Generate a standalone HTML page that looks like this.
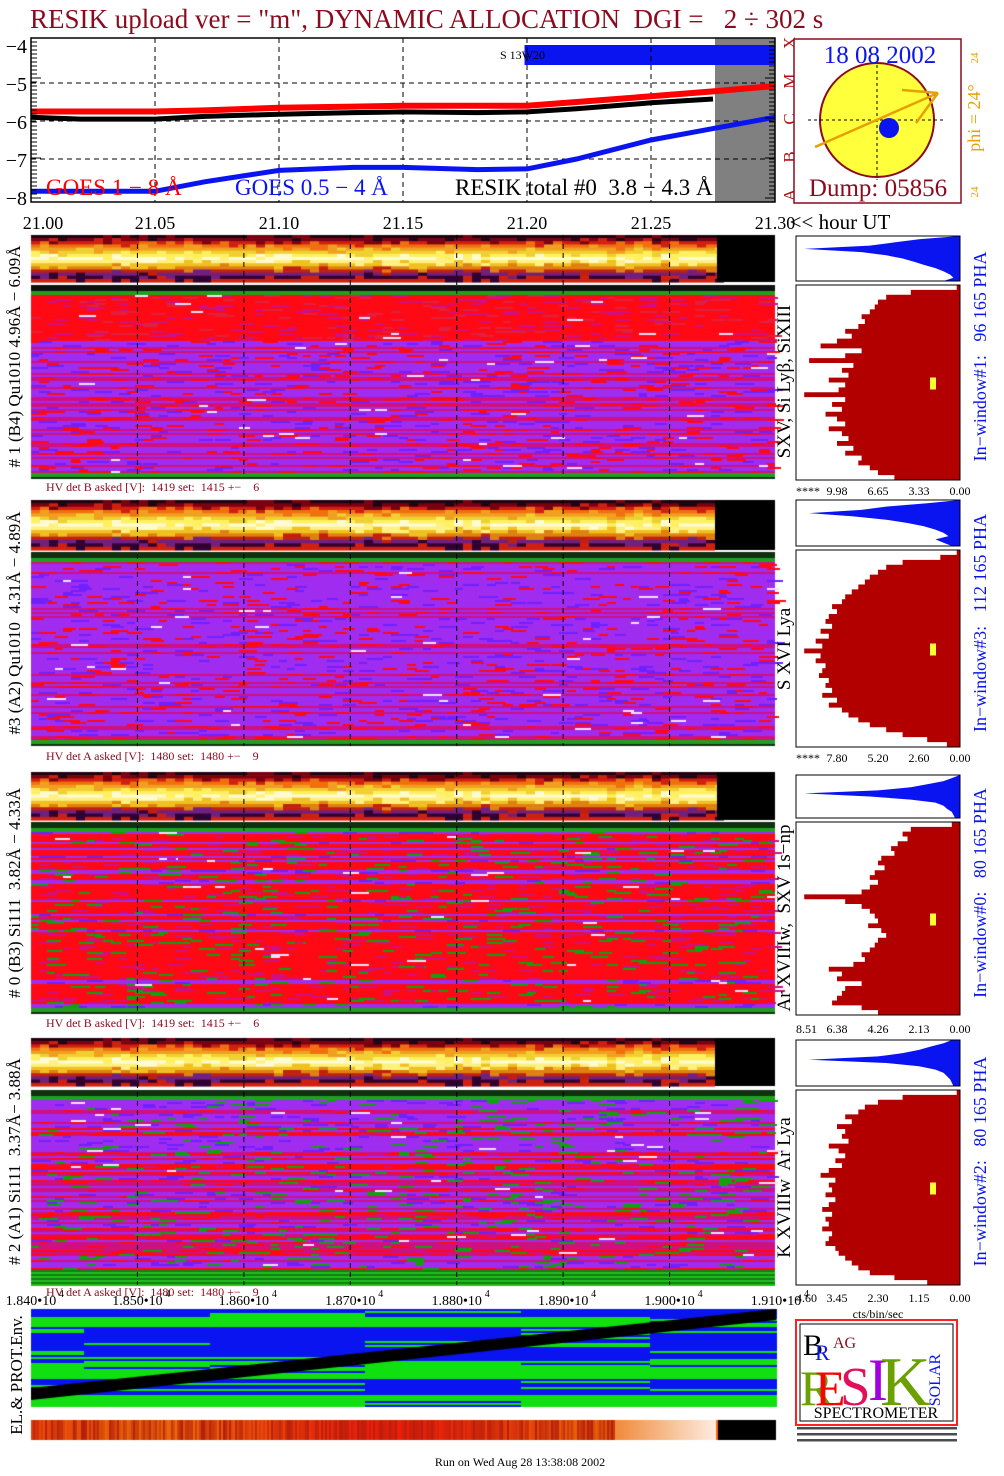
<!DOCTYPE html>
<html><head><meta charset="utf-8">
<style>
html,body{margin:0;padding:0;background:#fff;}
#wrap{position:relative;width:1004px;height:1476px;overflow:hidden;font-family:"Liberation Serif",serif;}
canvas{position:absolute;left:0;top:0;}
svg{position:absolute;left:0;top:0;}
svg text{white-space:pre;}
</style></head>
<body>
<div id="wrap">
<canvas id="tex" width="1004" height="1476"></canvas>
<svg id="s" width="1004" height="1476" xmlns="http://www.w3.org/2000/svg" font-family="Liberation Serif, serif">
  <text x="30" y="28" font-size="27" fill="#8b0a1e" xml:space="preserve">RESIK upload ver = "m", DYNAMIC ALLOCATION  DGI =   2 ÷ 302 s</text>
</svg>
</div>
<script>
// ---------- top light-curve data ----------
const lcTimes   = [21.00,21.02,21.05,21.07,21.10,21.13,21.15,21.18,21.20,21.22,21.25,21.275,21.30];
const goesLong  = [-5.75,-5.75,-5.75,-5.72,-5.65,-5.62,-5.6,-5.6,-5.6,-5.5,-5.35,-5.22,-5.08];
const resikTot  = [-5.9,-5.95,-5.95,-5.88,-5.82,-5.78,-5.76,-5.78,-5.76,-5.68,-5.52,-5.42,null];
const goesShort = [-7.85,-7.85,-7.85,-7.6,-7.3,-7.22,-7.22,-7.28,-7.26,-7.0,-6.5,-6.2,-5.9];
const yTicks = [-4,-5,-6,-7,-8];
const xTickLabels = ["21.00","21.05","21.10","21.15","21.20","21.25","21.30"];
const xTickVals = [21.00,21.05,21.10,21.15,21.20,21.25,21.30];
const bottomTickVals = [18400,18500,18600,18700,18800,18900,19000,19100];
const bottomTickLabels = ["1.840","1.850","1.860","1.870","1.880","1.890","1.900","1.910"];
// histogram profiles (fraction of full scale, top→bottom)
const histLarge0=[0.02,0.3,0.45,0.5,0.52,0.55,0.6,0.58,0.62,0.7,0.66,0.75,0.85,0.6,0.7,0.92,0.65,0.72,0.68,0.8,0.7,0.74,0.95,0.7,0.78,0.72,0.82,0.75,0.7,0.8,0.72,0.68,0.75,0.65,0.7,0.6,0.62,0.55,0.5,0.4];
const histLarge1=[0.02,0.12,0.35,0.45,0.5,0.55,0.58,0.62,0.66,0.7,0.72,0.78,0.75,0.8,0.82,0.78,0.85,0.8,0.88,0.84,0.95,0.85,0.88,0.82,0.84,0.86,0.8,0.82,0.78,0.84,0.75,0.8,0.72,0.68,0.62,0.55,0.45,0.35,0.2,0.08];
const histLarge2=[0.05,0.3,0.35,0.32,0.38,0.42,0.4,0.48,0.5,0.46,0.52,0.55,0.5,0.55,0.6,0.95,0.7,0.6,0.55,0.52,0.5,0.56,0.48,0.45,0.5,0.52,0.55,0.6,0.58,0.65,0.8,0.72,0.75,0.6,0.7,0.72,0.75,0.78,0.6,0.5];
const histLarge3=[0.02,0.35,0.5,0.58,0.62,0.7,0.66,0.75,0.7,0.72,0.68,0.8,0.74,0.7,0.76,0.72,0.8,0.85,0.76,0.8,0.78,0.82,0.76,0.8,0.84,0.78,0.82,0.8,0.84,0.78,0.8,0.82,0.76,0.74,0.7,0.66,0.62,0.55,0.4,0.2];
const histSmall0=[0.0,0.25,0.4,0.55,0.95,0.6,0.45,0.35,0.28,0.22,0.15,0.1,0.06,0.04,0.1];
const histSmall1=[0.0,0.2,0.45,0.6,0.92,0.65,0.45,0.32,0.22,0.15,0.1,0.07,0.15,0.1,0.05];
const histSmall2=[0.0,0.05,0.1,0.2,0.3,0.5,0.95,0.55,0.3,0.15,0.1,0.08,0.05,0.04,0.03];
const histSmall3=[0.05,0.1,0.18,0.25,0.35,0.5,0.92,0.45,0.25,0.15,0.1,0.08,0.06,0.05,0.04];

const NS="http://www.w3.org/2000/svg";
const svg=document.getElementById('s');
function el(tag,attrs,parent){const e=document.createElementNS(NS,tag);for(const k in attrs)e.setAttribute(k,attrs[k]);(parent||svg).appendChild(e);return e;}
function txt(x,y,s,size,fill,extra){const t=el('text',Object.assign({x:x,y:y,'font-size':size,fill:fill||'#000','xml:space':'preserve'},extra||{}));t.textContent=s;return t;}

const PL=31,PR=775,PT=38,PB=202;
const xS=t=>PL+(t-21.0)/0.30*(PR-PL);
const yS=v=>45+(-4-v)*38;

const tp=el('g',{});


el('rect',{x:715,y:PT,width:PR-715,height:PB-PT,fill:'#808080'},tp);
el('rect',{x:xS(21.199),y:45,width:PR-xS(21.199),height:20,fill:'#0a14f0'},tp);
txt(500,59,"S 13W20",12,'#000');
xTickVals.slice(1,6).forEach(v=>el('line',{x1:xS(v),x2:xS(v),y1:PT,y2:PB,stroke:'#000','stroke-dasharray':'5,4','stroke-width':1},tp));
[-5,-6,-7].forEach(v=>el('line',{x1:PL,x2:PR,y1:yS(v),y2:yS(v),stroke:'#000','stroke-dasharray':'5,4','stroke-width':1},tp));
function series(vals,color,w,name){
  let d='';vals.forEach((v,i)=>{if(v===null)return;d+=(d?'L':'M')+xS(lcTimes[i]).toFixed(1)+','+yS(v).toFixed(1);});
  const p=el('path',{d:d,fill:'none',stroke:color,'stroke-width':w},tp);
  
}
series(goesLong,'#ff0000',6,'goes-1-8-line');
series(resikTot,'#000',5,'resik-total-line');
series(goesShort,'#0a14f0',5,'goes-05-4-line');
el('rect',{x:PL,y:PT,width:PR-PL,height:PB-PT,fill:'none',stroke:'#000','stroke-width':1.5},tp);
yTicks.forEach(v=>{txt(27,yS(v)+8,'−'+Math.abs(v),20,'#000',{'text-anchor':'end'});});
for(let i=0;i<=40;i++){const y=PT+i*4;el('line',{x1:PL,x2:PL+(i%10==0?10:6),y1:y,y2:y,stroke:'#000'},tp);el('line',{x1:PR,x2:PR-(i%10==0?10:6),y1:y,y2:y,stroke:'#000'},tp);}
xTickVals.forEach((v,i)=>{txt(xS(v)+(i==0?12:0),229,xTickLabels[i],18,'#000',{'text-anchor':'middle'});});
txt(840,229,"<< hour UT",21,'#000',{'text-anchor':'middle'});
txt(46,195,"GOES 1 − 8 Å",23,'#ff0000');
txt(235,195,"GOES 0.5 − 4 Å",23,'#0a14f0');
txt(455,195,"RESIK total #0  3.8 − 4.3 Å",23,'#000');
['X','M','C','B','A'].forEach((c,i)=>txt(790,48+i*38,c,17,'#b01010',{transform:`rotate(-90 790 ${43+i*38})`,'text-anchor':'middle'}));

const sp=el('g',{});


el('rect',{x:794,y:39,width:167,height:164,fill:'#fff',stroke:'#8b0a1e','stroke-width':1.5},sp);
el('circle',{cx:877,cy:120,r:57,fill:'#ffff3c',stroke:'#8b0a1e','stroke-width':2},sp);
el('line',{x1:877,x2:877,y1:65,y2:180,stroke:'#000','stroke-dasharray':'3,3'},sp);
el('line',{x1:808,x2:943,y1:120,y2:120,stroke:'#000','stroke-dasharray':'3,3'},sp);
el('line',{x1:815,y1:147,x2:938,y2:93,stroke:'#e8a000','stroke-width':2.5},sp);
el('line',{x1:902,y1:90,x2:938,y2:93,stroke:'#e8a000','stroke-width':2.5},sp);
el('line',{x1:916,y1:123,x2:938,y2:93,stroke:'#e8a000','stroke-width':2.5},sp);
el('circle',{cx:889,cy:128,r:10,fill:'#0a14f0'},sp);
txt(880,63,"18 08 2002",25,'#0a14f0',{'text-anchor':'middle'});
txt(878,196,"Dump: 05856",25,'#8b0a1e',{'text-anchor':'middle'});
txt(980,118,"phi = 24°",18,'#e8a000',{transform:'rotate(-90 980 118)','text-anchor':'middle'});
txt(978,58,"24",11,'#e8a000',{transform:'rotate(-90 978 58)','text-anchor':'middle'});
txt(978,192,"24",11,'#e8a000',{transform:'rotate(-90 978 192)','text-anchor':'middle'});

const histLarge=[histLarge0,histLarge1,histLarge2,histLarge3];
const histSmall=[histSmall0,histSmall1,histSmall2,histSmall3];
const panels=[
 {strip:[235,282],main:[285,478],hv:"HV det B asked [V]:  1419 set:  1415 +−    6",hvY:491,
  left:"# 1 (B4) Qu1010 4.96Å − 6.09Å",lines:"SXV, Si Lyβ, SiXIII",win:"In−window#1:   96 165 PHA",
  hs:[236,281],hl:[285,480],ax:["****","9.98","6.65","3.33","0.00"],axY:495,scheme:0,black:717},
 {strip:[500,550],main:[552,746],hv:"HV det A asked [V]:  1480 set:  1480 +−    9",hvY:760,
  left:"#3 (A2) Qu1010  4.31Å − 4.89Å",lines:"S XVI Lya",win:"In−window#3:   112 165 PHA",
  hs:[500,546],hl:[550,747],ax:["****","7.80","5.20","2.60","0.00"],axY:762,scheme:1,black:715},
 {strip:[772,820],main:[822,1014],hv:"HV det B asked [V]:  1419 set:  1415 +−    6",hvY:1027,
  left:"# 0 (B3) Si111  3.82Å − 4.33Å",lines:"Ar XVIIIw,  SXV 1s−np",win:"In−window#0:   80 165 PHA",
  hs:[775,818],hl:[822,1015],ax:["8.51","6.38","4.26","2.13","0.00"],axY:1033,scheme:2,black:717},
 {strip:[1038,1086],main:[1090,1285],hv:"HV det A asked [V]:  1480 set:  1480 +−    9",hvY:1296,
  left:"# 2 (A1) Si111  3.37Å− 3.88Å",lines:"K XVIIIw  Ar Lya",win:"In−window#2:   80 165 PHA",
  hs:[1040,1086],hl:[1090,1285],ax:["4.60","3.45","2.30","1.15","0.00"],axY:1302,scheme:3,black:715}
];

const HX0=796,HX1=960;
panels.forEach((p,pi)=>{
  const g=el('g',{});
  
  
  txt(46,p.hvY,p.hv,12,'#8b0a1e');
  const lx=20,ly=(p.strip[0]+p.main[1])/2;
  txt(lx,ly,p.left,17,'#000',{transform:`rotate(-90 ${lx} ${ly})`,'text-anchor':'middle'});
  const rx=790,ry=(p.main[0]+p.main[1])/2;
  txt(rx,ry,p.lines,19,'#000',{transform:`rotate(-90 ${rx} ${ry})`,'text-anchor':'middle'});
  const wx=986,wy=(p.strip[0]+p.main[1])/2;
  txt(wx,wy,p.win,18,'#0a14f0',{transform:`rotate(-90 ${wx} ${wy})`,'text-anchor':'middle'});
  bottomTickVals.slice(1,7).forEach(v=>{const x=31+(v-18400)/700*745;
    el('line',{x1:x,x2:x,y1:p.strip[0],y2:p.main[1],stroke:'#000','stroke-dasharray':'5,4'},g);});
  let hs=histSmall[pi],h0=p.hs[0],h1=p.hs[1];
  let d=`M${HX1},${h0}`;hs.forEach((v,i)=>{const y=h0+(h1-h0)*i/(hs.length-1);d+=`L${HX1-v*(HX1-HX0)},${y}`;});d+=`L${HX1},${h1}Z`;
  const sh=el('path',{d:d,fill:'#0a14f0'},g);
  
  el('rect',{x:HX0,y:h0,width:HX1-HX0,height:h1-h0,fill:'none',stroke:'#000'},g);
  let hl=histLarge[pi];h0=p.hl[0];h1=p.hl[1];
  const step=(h1-h0)/hl.length;
  d=`M${HX1},${h0}`;hl.forEach((v,i)=>{const x=HX1-v*(HX1-HX0);const y=h0+step*i;d+=`L${x},${y}L${x},${y+step}`;});d+=`L${HX1},${h1}Z`;
  const lh=el('path',{d:d,fill:'#b20000'},g);
  
  el('rect',{x:930,y:(h0+h1)/2-5,width:6,height:12,fill:'#ffff30'},g);
  el('rect',{x:HX0,y:h0,width:HX1-HX0,height:h1-h0,fill:'none',stroke:'#000'},g);
  p.ax.forEach((a,i)=>txt(796+i*41,p.axY,a,12,'#000',{'text-anchor':i==0?'start':'middle'}));
});
txt(878,1318,"cts/bin/sec",12,'#000',{'text-anchor':'middle'});

bottomTickVals.forEach((v,i)=>{const x=31+(v-18400)/700*745;
  txt(x,1305,bottomTickLabels[i]+"•10",14,'#000',{'text-anchor':'middle'});
  txt(x+28,1297,"4",10,'#000');});
txt(22,1375,"EL.& PROT.Env.",17,'#000',{transform:'rotate(-90 22 1375)','text-anchor':'middle'});
txt(520,1466,"Run on Wed Aug 28 13:38:08 2002",12,'#000',{'text-anchor':'middle'});

const lg=el('g',{});


el('rect',{x:796,y:1320,width:161,height:105,fill:'#fff',stroke:'#ff2020','stroke-width':2},lg);
el('rect',{x:800,y:1324,width:153,height:97,fill:'none',stroke:'#000','stroke-width':1},lg);
txt(803,1355,"B",30,'#000');txt(815,1360,"R",22,'#0a14f0');txt(833,1348,"AG",16,'#8b0a1e');
txt(800,1405,"R",50,'#6aa000');txt(815,1405,"E",50,'#ff0000');txt(840,1405,"S",55,'#e0105a');
txt(868,1400,"I",60,'#a000e0');txt(880,1405,"K",70,'#6aa000');
txt(940,1380,"SOLAR",16,'#0a14f0',{transform:'rotate(-90 940 1380)','text-anchor':'middle'});
txt(876,1418,"SPECTROMETER",16,'#000',{'text-anchor':'middle'});
[1430,1436,1442].forEach(y=>el('rect',{x:797,y:y-3,width:160,height:2.5,fill:'#000',opacity:0.7},lg));

// ---------- canvas textures ----------
const c=document.getElementById('tex').getContext('2d');
function H(a,b,s){const v=Math.sin(a*12.9898+b*78.233+s*37.719)*43758.5453;return v-Math.floor(v);}
function drawStrip(y0,y1,black){
  const prof=['#200010','#7a0010','#d02010','#f07010','#f0a020','#f0d030','#fff060','#fffbd0','#fff080','#f0c020','#e08010','#c02010','#702080','#300030','#d02010'];
  const n=prof.length,rh=(y1-y0)/n;
  for(let i=0;i<n;i++){
    for(let x=31;x<black;x+=9){
      let k=i+(H(x,i,1)>0.75?(H(x,i,2)>0.5?1:-1):0);k=Math.max(0,Math.min(n-1,k));
      c.fillStyle=prof[k];c.fillRect(x,y0+i*rh,9,rh+0.6);
    }
  }
  c.fillStyle='#000';c.fillRect(black,y0,775-black,y1-y0);
}
function drawMain(y0,y1,scheme){
  const RED='#ff0a14',PUR='#a02cf0',MAG='#d01080',VIO='#7020ff',GRN='#10a010';
  const rowH=2;
  for(let y=y0;y<y1;y+=rowH){
    const f=(y-y0)/(y1-y0);
    if(f<0.03){c.fillStyle=(scheme==0?'#101010':'#103010');c.fillRect(31,y,744,rowH);continue;}
    if(f<0.05){c.fillStyle='#20a020';c.fillRect(31,y,744,rowH);continue;}
    if(f>0.965 && scheme!=3){c.fillStyle=f>0.985?'#103010':'#20a020';c.fillRect(31,y,744,rowH);continue;}
    if(f>0.92 && scheme==3){c.fillStyle=H(y,1,3)>0.5?'#108010':'#20c020';c.fillRect(31,y,744,rowH);continue;}
    let base;
    if(scheme==0) base = f<0.28 ? RED : (H(y,0,5)>0.65?MAG:PUR);
    else if(scheme==1) base = H(y,0,6)>0.8?MAG:PUR;
    else if(scheme==2) base = H(y,0,7)>0.88?PUR:RED;
    else base = H(y,0,8)>0.5?PUR:(H(y,0,9)>0.5?RED:MAG);
    c.fillStyle=base;c.fillRect(31,y,744,rowH);
    for(let x=31;x<775;x+=8){
      const r=H(x,y,scheme+11);
      let col=null;
      if(r>0.95) col=(scheme==2||scheme==3)?GRN:(scheme==0&&f<0.28?'#e02040':RED);
      else if(r>0.88) col=(base==RED?MAG:(base==PUR?VIO:RED));
      else if(r>0.875) col='#f0e0ff';
      if(col){c.fillStyle=col;c.fillRect(x,y,8+Math.floor(H(y,x,4)*12),rowH);}
    }
  }
}
panels.forEach(p=>{drawStrip(p.strip[0],p.strip[1],p.black);drawMain(p.main[0],p.main[1],p.scheme);});
(function(){
  const y0=1309,y1=1407;
  const segs=[[31,84],[84,210],[210,365],[365,521],[521,650],[650,777]];
  segs.forEach((s,si)=>{
    for(let y=y0;y<y1;y+=2){
      const f=(y-y0)/(y1-y0);
      let g=(f>0.08&&f<0.17)||(f>0.52&&f<0.7)||(f>0.86);
      if(H(si,y,21)>0.88) g=!g;
      c.fillStyle=g?'#10e010':'#0a14f0';c.fillRect(s[0],y,s[1]-s[0],2);
    }
  });
  c.fillStyle='#000';c.beginPath();c.moveTo(31,1388);c.lineTo(776,1309);c.lineTo(776,1320);c.lineTo(31,1400);c.closePath();c.fill();
  for(let x=31;x<718;x+=2){
    const f=(x-31)/687;
    let r,g,b;
    if(f>0.85){const t=(f-0.85)/0.15;r=240+15*t;g=140+100*t;b=60+170*t;}
    else{const v=H(x,1,31);r=180+60*v;g=30+80*v*(0.5+0.5*Math.sin(f*9));b=10;}
    c.fillStyle=`rgb(${r|0},${g|0},${b|0})`;c.fillRect(x,1420,2,20);
  }
  c.fillStyle='#ff6a00';c.fillRect(716,1420,2,20);
  c.fillStyle='#000';c.fillRect(718,1420,58,20);
})();
</script>
</body></html>
